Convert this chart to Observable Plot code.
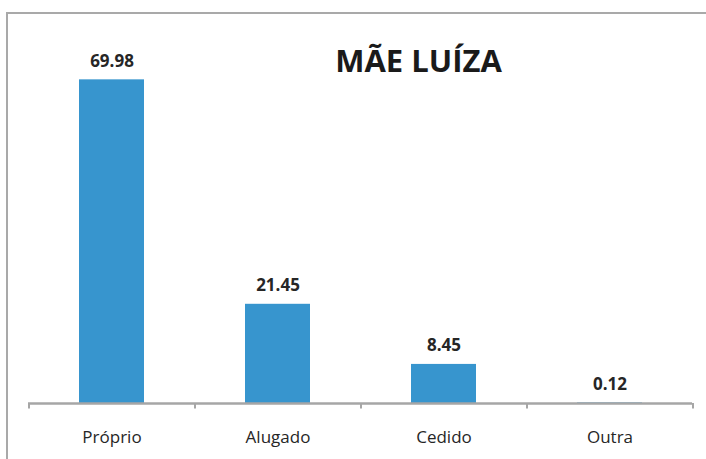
<!DOCTYPE html>
<html>
<head>
<meta charset="utf-8">
<script src="https://cdn.jsdelivr.net/npm/d3@7"></script>
<script src="https://cdn.jsdelivr.net/npm/@observablehq/plot@0.6"></script>
<style>
  html, body { margin: 0; padding: 0; background: #fff; }
  #wrap { position: relative; width: 706px; height: 459px; overflow: hidden; }
  #border { position: absolute; left: 6px; top: 12px; width: 720px; height: 470px;
            border-top: 2px solid #a9a9a9; border-left: 2px solid #a9a9a9; box-sizing: border-box; }
  #chart { position: absolute; left: 0; top: 0; }
</style>
</head>
<body>
<div id="wrap"><div id="border"></div><div id="chart"></div></div>
<script>
const categories = ["Próprio", "Alugado", "Cedido", "Outra"];
const values = [69.98, 21.45, 8.45, 0.12];
const title = "MÃE LUÍZA";

const data = categories.map((c, i) => ({category: c, value: values[i]}));

const W = 706, H = 459;
const mL = 28, mR = 14, mT = 33, mB = 56;
const half = (W - mL - mR) / categories.length / 2;
const font = "'Open Sans', sans-serif";

const chart = Plot.plot({
  width: W,
  height: H,
  marginLeft: mL,
  marginRight: mR,
  marginTop: mT,
  marginBottom: mB,
  style: {fontFamily: font, background: "transparent", overflow: "visible"},
  x: {domain: categories, paddingInner: 0.61, paddingOuter: 0.305, label: null},
  y: {domain: [0, 80], axis: null},
  marks: [
    Plot.barY(data, {x: "category", y: "value", fill: "#3795ce"}),
    Plot.ruleY([0], {stroke: "#a6a6a6", strokeWidth: 2.5}),
    Plot.ruleX(data, {x: "category", y1: 0, y2: -1.2, dx: -half, stroke: "#a6a6a6", strokeWidth: 2}),
    Plot.ruleX(data.slice(-1), {x: "category", y1: 0, y2: -1.2, dx: half, stroke: "#a6a6a6", strokeWidth: 2}),
    Plot.axisX({tickSize: 0, tickPadding: 27, fontSize: 17, fill: "#262626", label: null}),
    Plot.text(data, {x: "category", y: "value", text: d => d.value.toFixed(2), lineAnchor: "bottom",
      dy: -13, fontSize: 17, fontWeight: "bold", fill: "#262626"}),
    Plot.text([title], {frameAnchor: "top", dx: 58, dy: 29, lineAnchor: "middle",
      fontSize: 31, fontWeight: "bold", fill: "#1a1a1a"})
  ]
});
document.getElementById("chart").appendChild(chart);
</script>
</body>
</html>
